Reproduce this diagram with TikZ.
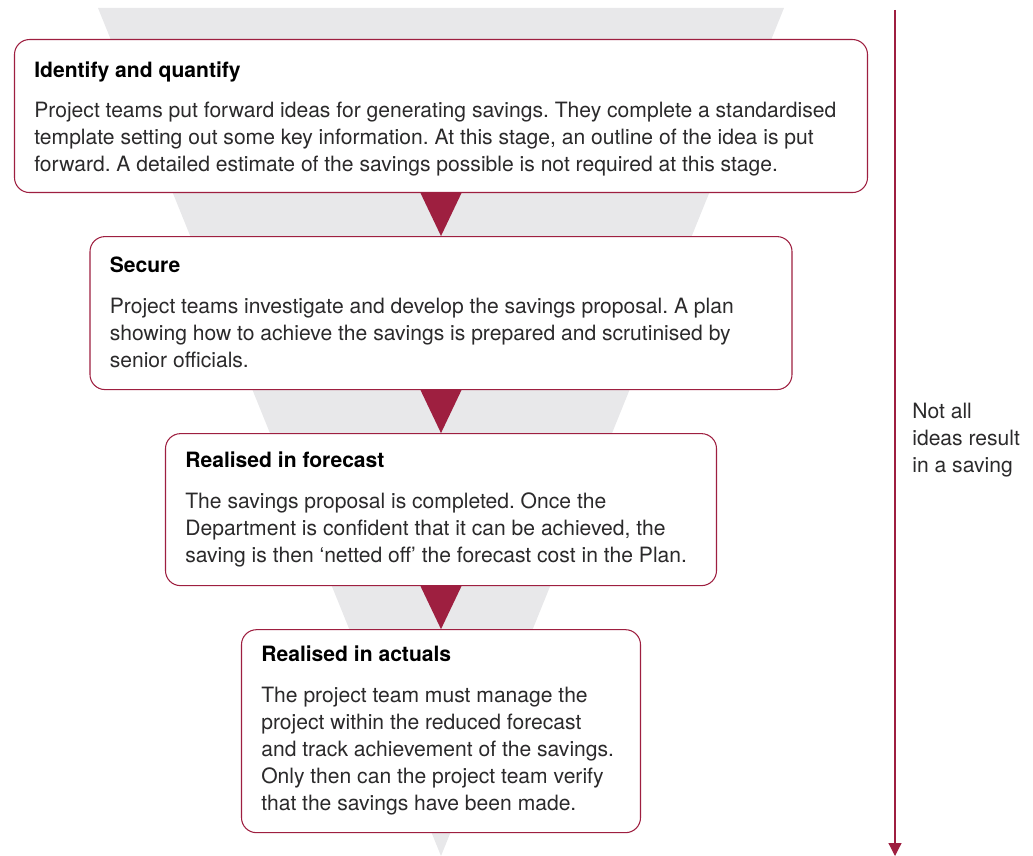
\documentclass[tikz,border=0pt]{standalone}
\usepackage{fontspec}
\setmainfont{TeX Gyre Heros}
\frenchspacing
\usetikzlibrary{positioning,arrows.meta}
\definecolor{claret}{HTML}{9E1F40}
\definecolor{funnel}{HTML}{E8E8EA}
\definecolor{ink}{HTML}{2B2A2B}
\begin{document}
\begin{tikzpicture}[font=\fontsize{12}{15.36}\selectfont,text=ink,node distance=0.86cm,
    stagebox/.style={draw=claret,line width=0.6pt,rounded corners=0.3cm,fill=white,inner sep=0pt,minimum height=3.06cm},
    stagetitle/.style={anchor=base west,inner sep=0pt,font=\fontsize{12}{15.36}\selectfont\bfseries,text=black},
    stagetext/.style={anchor=north west,inner sep=0pt,align=left},
    pointer/.style={fill=claret}]
\useasboundingbox (0,0) rectangle (20.66,-17.12);
\fill [funnel] (1.96,-0.16)--(15.68,-0.16)--(8.82,-17.12)--cycle;
\node [stagebox,minimum width=17.06cm,anchor=north] (identify) at (8.82,-0.78) {};
\node [stagebox,minimum width=14.04cm,below=of identify] (secure) {};
\node [stagebox,minimum width=11.02cm,minimum height=3.04cm,below=of secure] (forecast) {};
\node [stagebox,minimum width=7.98cm,minimum height=4.06cm,below=of forecast] (actuals) {};
\foreach \a/\b in {identify/secure,secure/forecast,forecast/actuals}
    \fill [pointer] ([xshift=-0.41cm]\a.south)--([xshift=0.41cm]\a.south)--(\b.north)--cycle;
\node [stagetitle] (identify title) at ([xshift=0.4cm,yshift=-0.77cm]identify.north west) {Identify and quantify};
\node [stagetext] (identify text) at ([xshift=0.4cm,yshift=-1.26cm]identify.north west)
    {Project teams put forward ideas for generating savings. They complete a standardised\\
     template setting out some key information. At this stage, an outline of the idea is put\\
     forward. A detailed estimate of the savings possible is not required at this stage.};
\node [stagetitle] (secure title) at ([xshift=0.4cm,yshift=-0.72cm]secure.north west) {Secure};
\node [stagetext] (secure text) at ([xshift=0.4cm,yshift=-1.24cm]secure.north west)
    {Project teams investigate and develop the savings proposal. A plan\\
     showing how to achieve the savings is prepared and scrutinised by\\
     senior officials.};
\node [stagetitle] (forecast title) at ([xshift=0.4cm,yshift=-0.68cm]forecast.north west) {Realised in forecast};
\node [stagetext] (forecast text) at ([xshift=0.4cm,yshift=-1.18cm]forecast.north west)
    {The savings proposal is completed. Once the\\
     Department is confident that it can be achieved, the\\
     saving is then ‘netted off’ the forecast cost in the Plan.};
\node [stagetitle] (actuals title) at ([xshift=0.4cm,yshift=-0.64cm]actuals.north west) {Realised in actuals};
\node [stagetext] (actuals text) at ([xshift=0.4cm,yshift=-1.16cm]actuals.north west)
    {The project team must manage the\\
     project within the reduced forecast\\
     and track achievement of the savings.\\
     Only then can the project team verify\\
     that the savings have been made.};
\coordinate (ideas top) at (17.9,-0.2);
\coordinate (ideas end) at (17.9,-17.12);
\draw [claret,line width=0.7pt,-{Triangle[width=0.26cm,length=0.26cm]}] (ideas top)--(ideas end);
\node [stagetext] (ideas note) at (18.24,-8.06) {Not all\\ideas result\\in a saving};
\end{tikzpicture}
\end{document}
